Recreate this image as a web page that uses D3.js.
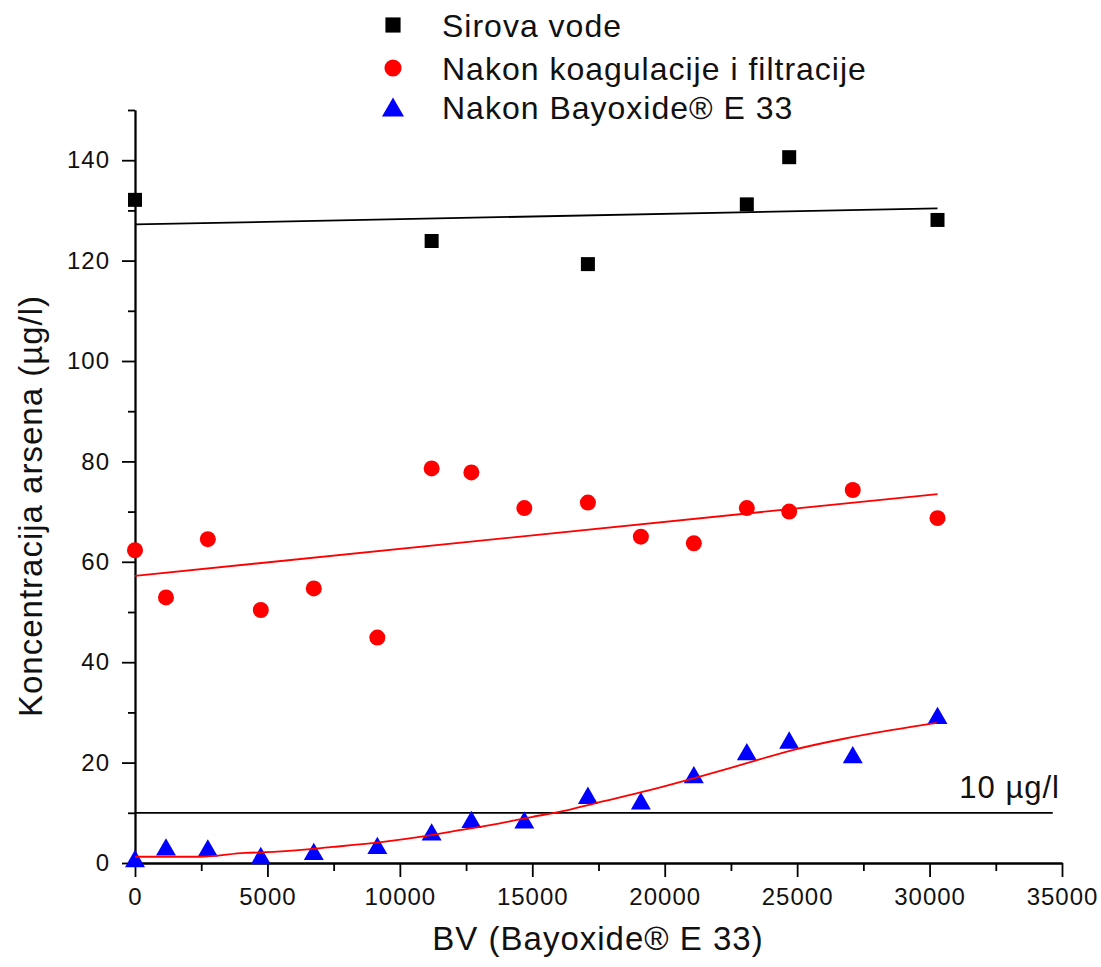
<!DOCTYPE html>
<html>
<head>
<meta charset="utf-8">
<script src="https://cdn.jsdelivr.net/npm/d3@7"></script>
<style>
  body { margin: 0; background: #fff; }
  svg { display: block; font-family: "Liberation Sans", Arial, sans-serif; }
  .axis path, .axis line { stroke: #000; stroke-width: 1.8; }
  .axis text { fill: #111; font-size: 24px; letter-spacing: 1px; }
</style>
</head>
<body>
<svg id="chart" width="1101" height="967"></svg>
<script>
// BV values (x) and concentrations (y)
var bvRaw = [0, 11200, 17100, 23100, 24700, 30300];
var rawVals = [132.1, 123.9, 119.3, 131.2, 140.6, 128.1];

var bvTreated = [0, 1170, 2750, 4750, 6750, 9150, 11200, 12700, 14700, 17100, 19100, 21100, 23100, 24700, 27100, 30300];
var coagVals = [62.3, 52.9, 64.5, 50.4, 54.7, 44.9, 78.6, 77.8, 70.7, 71.8, 65.0, 63.7, 70.7, 70.0, 74.3, 68.7];
var e33Vals = [0.9, 3.2, 3.0, 1.5, 2.3, 3.5, 6.2, 8.7, 8.6, 13.5, 12.4, 17.6, 22.2, 24.5, 21.6, 29.4];

// fitted lines
var rawFitX = [0, 30300], rawFitY = [127.2, 130.4];
var coagFitX = [0, 30300], coagFitY = [57.2, 73.5];
var e33FitX = [0, 2450, 4150, 5360, 7470, 9360, 11250, 11900, 13780, 15020, 16300, 17300, 19430, 21320, 23100, 24830, 26720, 28600, 30270];
var e33FitY = [1.25, 1.25, 2.0, 2.25, 3.2, 4.2, 5.6, 6.2, 7.9, 9.2, 10.5, 11.8, 14.5, 17.2, 19.9, 22.5, 24.7, 26.5, 27.9];

// limit line 10 µg/l
var limitX = [0, 34650], limitY = [10, 10];

var xTicks = [0, 5000, 10000, 15000, 20000, 25000, 30000, 35000];
var yTicks = [0, 20, 40, 60, 80, 100, 120, 140];

var seriesNames = ["Sirova vode", "Nakon koagulacije i filtracije", "Nakon Bayoxide\u00AE E 33"];

var svg = d3.select("#chart");

var x = d3.scaleLinear().domain([0, 35000]).range([135, 1062]);
var y = d3.scaleLinear().domain([0, 150]).range([863, 110]);

function pairs(xs, ys) {
	return xs.map(function(v, i) { return [v, ys[i]]; });
}

// minor ticks
svg.append("g")
	.attr("class", "axis")
	.attr("transform", "translate(0,863)")
	.call(d3.axisBottom(x).tickValues(d3.range(2500, 35000, 5000)).tickSize(8).tickSizeOuter(0).tickFormat(""));
svg.append("g")
	.attr("class", "axis")
	.attr("transform", "translate(135,0)")
	.call(d3.axisLeft(y).tickValues(d3.range(10, 151, 20)).tickSize(7).tickSizeOuter(0).tickFormat(""));

// major ticks
svg.append("g")
	.attr("class", "axis")
	.attr("transform", "translate(0,863)")
	.call(d3.axisBottom(x).tickValues(xTicks).tickSize(14).tickSizeOuter(0).tickPadding(11).tickFormat(d3.format("d")));
svg.append("g")
	.attr("class", "axis")
	.attr("transform", "translate(135,0)")
	.call(d3.axisLeft(y).tickValues(yTicks).tickSize(13).tickSizeOuter(0).tickPadding(12).tickFormat(d3.format("d")));

var line = d3.line()
	.x(function(d) { return x(d[0]); })
	.y(function(d) { return y(d[1]); });

// limit line
svg.append("path")
	.datum(pairs(limitX, limitY))
	.attr("d", line)
	.attr("fill", "none")
	.attr("stroke", "#000")
	.attr("stroke-width", 1.8);

svg.append("text")
	.attr("x", 1060)
	.attr("y", 798)
	.attr("text-anchor", "end")
	.attr("font-size", 31)
	.attr("letter-spacing", 1)
	.attr("fill", "#111")
	.text("10 \u00B5g/l");

// scatter points
var sq = d3.symbol().type(d3.symbolSquare).size(196);
var ci = d3.symbol().type(d3.symbolCircle).size(201);
var triSize = 173;
var tri = d3.symbol().type(d3.symbolTriangle).size(triSize);
var triOff = Math.sqrt(triSize / (Math.sqrt(3) * 3)) / 2;

svg.append("g").selectAll("path")
	.data(pairs(bvRaw, rawVals))
	.enter().append("path")
	.attr("d", sq)
	.attr("fill", "#000")
	.attr("transform", function(d) { return "translate(" + x(d[0]) + "," + y(d[1]) + ")"; });

svg.append("g").selectAll("path")
	.data(pairs(bvTreated, coagVals))
	.enter().append("path")
	.attr("d", ci)
	.attr("fill", "#ff0000")
	.attr("transform", function(d) { return "translate(" + x(d[0]) + "," + y(d[1]) + ")"; });

svg.append("g").selectAll("path")
	.data(pairs(bvTreated, e33Vals))
	.enter().append("path")
	.attr("d", tri)
	.attr("fill", "#0000ff")
	.attr("transform", function(d) { return "translate(" + x(d[0]) + "," + (y(d[1]) + triOff) + ")"; });

// fits
svg.append("path")
	.datum(pairs(rawFitX, rawFitY))
	.attr("d", line)
	.attr("fill", "none")
	.attr("stroke", "#000")
	.attr("stroke-width", 1.8);

svg.append("path")
	.datum(pairs(coagFitX, coagFitY))
	.attr("d", line)
	.attr("fill", "none")
	.attr("stroke", "#ff0000")
	.attr("stroke-width", 1.8);

svg.append("path")
	.datum(pairs(e33FitX, e33FitY))
	.attr("d", line.curve(d3.curveMonotoneX))
	.attr("fill", "none")
	.attr("stroke", "#ff0000")
	.attr("stroke-width", 1.8);

// axis titles
svg.append("text")
	.attr("x", 598)
	.attr("y", 950)
	.attr("text-anchor", "middle")
	.attr("font-size", 33)
	.attr("letter-spacing", 1)
	.attr("fill", "#111")
	.text("BV (Bayoxide\u00AE E 33)");

svg.append("text")
	.attr("transform", "translate(42,506) rotate(-90)")
	.attr("text-anchor", "middle")
	.attr("font-size", 33)
	.attr("letter-spacing", 1)
	.attr("fill", "#111")
	.text("Koncentracija arsena (\u00B5g/l)");

// legend
var legendSymbols = [
	{ sym: d3.symbol().type(d3.symbolSquare).size(230), color: "#000", dy: 0 },
	{ sym: d3.symbol().type(d3.symbolCircle).size(230), color: "#ff0000", dy: 0 },
	{ sym: d3.symbol().type(d3.symbolTriangle).size(210), color: "#0000ff", dy: Math.sqrt(210 / (Math.sqrt(3) * 3)) / 2 }
];
var legendY = [25, 68, 107];

var legend = svg.append("g");
seriesNames.forEach(function(name, i) {
	legend.append("path")
		.attr("d", legendSymbols[i].sym)
		.attr("fill", legendSymbols[i].color)
		.attr("transform", "translate(393," + (legendY[i] + legendSymbols[i].dy) + ")");
	legend.append("text")
		.attr("x", 442)
		.attr("y", legendY[i] + 12)
		.attr("font-size", 32)
		.attr("letter-spacing", 1)
		.attr("fill", "#111")
		.text(name);
});
</script>
</body>
</html>
